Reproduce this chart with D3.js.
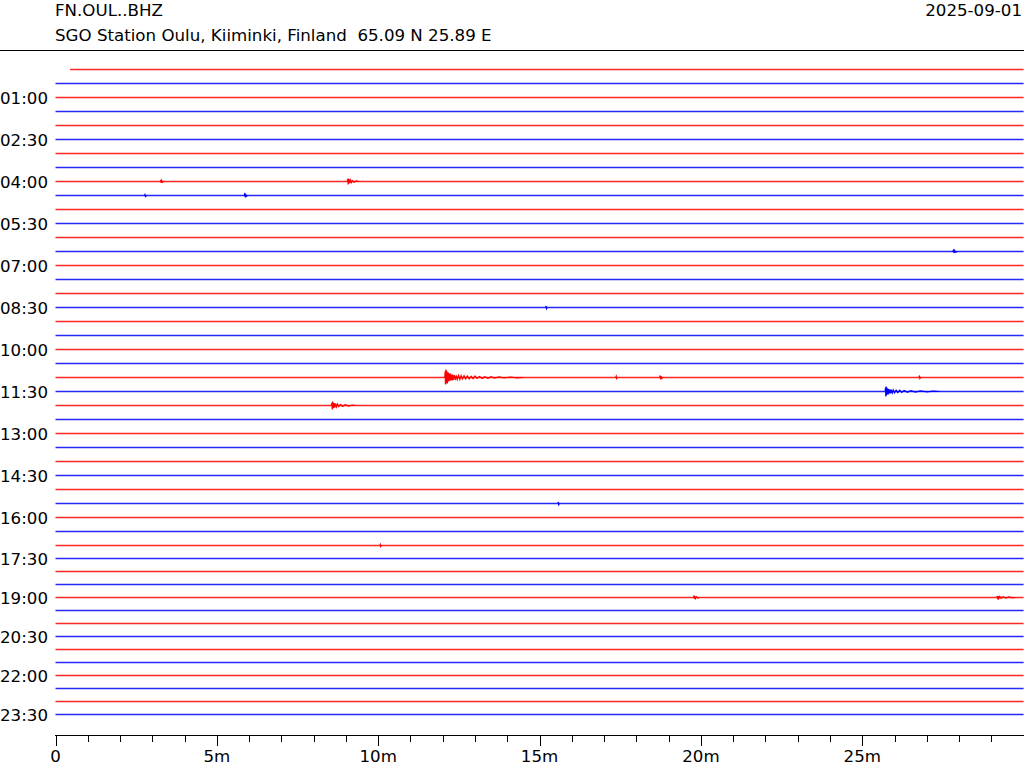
<!DOCTYPE html>
<html>
<head>
<meta charset="utf-8">
<script src="https://cdn.jsdelivr.net/npm/d3@7"></script>
<style>
  html, body { margin: 0; padding: 0; background: #fff; }
  svg { display: block; font-family: "DejaVu Sans", sans-serif; }
  text { white-space: pre; }
</style>
</head>
<body>
<svg id="chart" width="1024" height="768"></svg>
<script>
// ---------------- data ----------------
const stationCode = "FN.OUL..BHZ";
const stationDesc = "SGO Station Oulu, Kiiminki, Finland  65.09 N 25.89 E";
const dateLabel = "2025-09-01";

// one row per 30 minutes, alternating colours
const rowTimes = ["00:00","00:30","01:00","01:30","02:00","02:30","03:00","03:30",
  "04:00","04:30","05:00","05:30","06:00","06:30","07:00","07:30",
  "08:00","08:30","09:00","09:30","10:00","10:30","11:00","11:30",
  "12:00","12:30","13:00","13:30","14:00","14:30","15:00","15:30",
  "16:00","16:30","17:00","17:30","18:00","18:30","19:00","19:30",
  "20:00","20:30","21:00","21:30","22:00","22:30","23:00","23:30"];
const rowColors = ["#ff0000", "#0000ff"];

const yTickLabels = ["01:00","02:30","04:00","05:30","07:00","08:30","10:00","11:30",
  "13:00","14:30","16:00","17:30","19:00","20:30","22:00","23:30"];

const xTickMinutes = [0, 5, 10, 15, 20, 25];
const xTickLabels = ["0", "5m", "10m", "15m", "20m", "25m"];
const xMinorMinutes = [0,1,2,3,4,5,6,7,8,9,10,11,12,13,14,15,16,17,18,19,20,21,22,23,24,25,26,27,28,29];

// data coverage of each row (minutes within the row)
const rowDataStart = { "00:00": 0.45 };
const rowDataEnd = 30;

// event waveforms: [minute, amplitude] (amplitude in k-counts, positive = up)
const events = [
  { row: "04:00", wave: [[3.25,0],[3.265,1.5],[3.275,-1.5],[3.29,1],[3.31,-0.8],[3.35,0]] },
  { row: "04:00", wave: [[9.04,0],[9.06,2.5],[9.07,-3],[9.08,3],[9.09,-2],[9.105,2],[9.12,-1.5],
                         [9.14,1.5],[9.17,-1],[9.2,1],[9.25,-0.8],[9.32,0.6],[9.4,0]] },
  { row: "04:30", wave: [[2.75,0],[2.77,1],[2.79,-1],[2.82,0]] },
  { row: "04:30", wave: [[5.85,0],[5.87,2.5],[5.88,-2],[5.895,1.5],[5.91,-1],[5.95,0]] },
  { row: "06:30", wave: [[27.81,0],[27.83,2],[27.84,-1.5],[27.86,1],[27.89,-0.8],[27.95,0]] },
  { row: "08:30", wave: [[15.19,0],[15.205,1.5],[15.215,-1.2],[15.24,0]] },
  { row: "11:00", wave: [[12.06,0],[12.075,6],[12.085,-7],[12.095,8],[12.105,-6],[12.115,7],[12.125,-5],
                         [12.135,6],[12.145,-6],[12.155,5],[12.165,-4],[12.175,5],[12.19,-4],[12.205,4],
                         [12.22,-3],[12.235,4],[12.25,-3],[12.27,3],[12.29,-3],[12.31,3],[12.33,-2.5],
                         [12.36,2.5],[12.39,-2.5],[12.42,2],[12.45,-2],[12.49,2],[12.53,-2],[12.57,2],
                         [12.61,-1.5],[12.66,1.8],[12.71,-1.5],[12.76,1.5],[12.82,-1.5],[12.88,1.2],
                         [12.94,-1.2],[13.0,1.5],[13.06,-1],[13.14,1],[13.22,-1],[13.3,0.8],[13.4,-0.8],
                         [13.5,0.8],[13.6,-0.6],[13.75,0.6],[13.9,-0.5],[14.1,0.5],[14.3,-0.4],[14.5,0]] },
  { row: "11:00", wave: [[17.36,0],[17.375,1.2],[17.385,-1],[17.41,0]] },
  { row: "11:00", wave: [[18.72,0],[18.74,2],[18.75,-2],[18.765,1.5],[18.78,-1],[18.82,0]] },
  { row: "11:00", wave: [[26.76,0],[26.775,2],[26.785,-1],[26.81,0]] },
  { row: "11:30", wave: [[25.71,0],[25.72,4],[25.73,-5],[25.74,5],[25.75,-4],[25.76,4],[25.775,-3],
                         [25.79,3],[25.805,-3],[25.82,2.5],[25.84,-2],[25.86,2],[25.88,-2],[25.9,1.8],
                         [25.93,-1.5],[25.96,1.5],[26.0,-1.5],[26.05,1.3],[26.1,-1.2],[26.16,1.2],
                         [26.22,-1],[26.3,1],[26.4,-0.8],[26.5,0.8],[26.65,-0.6],[26.8,0.6],[27.0,-0.4],
                         [27.2,0.4],[27.4,0]] },
  { row: "12:00", wave: [[8.55,0],[8.565,3],[8.575,-4],[8.585,4],[8.595,-3],[8.61,3],[8.625,-2.5],
                         [8.64,2.5],[8.66,-2],[8.68,2],[8.71,-1.5],[8.74,1.5],[8.78,-1.2],[8.83,1],
                         [8.9,-1],[8.98,0.8],[9.08,-0.6],[9.2,0.5],[9.3,0]] },
  { row: "15:30", wave: [[15.57,0],[15.585,1.5],[15.595,-1.2],[15.62,0]] },
  { row: "17:00", wave: [[10.05,0],[10.065,1],[10.075,-1],[10.1,0]] },
  { row: "19:00", wave: [[19.77,0],[19.79,2],[19.8,-1.5],[19.815,1.2],[19.83,-1],[19.86,0.8],
                         [19.9,-0.6],[19.95,0]] },
  { row: "19:00", wave: [[29.17,0],[29.19,1.5],[29.2,-2],[29.215,1.5],[29.23,-1],[29.26,1],[29.3,-0.8],
                         [29.36,0.8],[29.45,-0.6],[29.55,0.5],[29.65,-0.4],[29.75,0]] }
];

// ---------------- layout ----------------
const svg = d3.select("#chart");
const font = 16.67;

const x = d3.scaleLinear().domain([0, 30]).range([55.5, 1023.6]);
// row index -> vertical baseline position
const y = d3.scaleLinear().domain([0, 34, 47]).range([69.5, 545.5, 714.5]);
const amp = d3.scaleLinear().domain([0, 1]).range([0, 1]);
const rowIndex = t => rowTimes.indexOf(t);

// header
svg.append("text").attr("x", 55).attr("y", 16).attr("font-size", font)
  .attr("fill", "#000").text(stationCode);
svg.append("text").attr("x", 55).attr("y", 41).attr("font-size", font)
  .attr("fill", "#000").attr("xml:space", "preserve").text(stationDesc);
svg.append("text").attr("x", 1022).attr("y", 16).attr("font-size", font)
  .attr("text-anchor", "end").attr("fill", "#000").text(dateLabel);
svg.append("line").attr("x1", 0).attr("x2", 1024).attr("y1", 50.5).attr("y2", 50.5)
  .attr("stroke", "#000").attr("stroke-width", 1).attr("shape-rendering", "crispEdges");

// traces
const traces = svg.append("g");
rowTimes.forEach((t, i) => {
  const start = rowDataStart[t] !== undefined ? rowDataStart[t] : 0;
  traces.append("line")
    .attr("x1", x(start)).attr("x2", x(rowDataEnd))
    .attr("y1", y(i)).attr("y2", y(i))
    .attr("stroke", rowColors[i % 2])
    .attr("stroke-opacity", 0.85)
    .attr("stroke-width", 1.4);
});

// events
const wave = d3.line()
  .x(d => x(d[0]))
  .y(d => d.base - amp(d[1]));
events.forEach(ev => {
  const i = rowIndex(ev.row);
  const pts = ev.wave.map(p => { const q = p.slice(); q.base = y(i); return q; });
  traces.append("path")
    .attr("d", wave(pts))
    .attr("fill", "none")
    .attr("stroke", rowColors[i % 2])
    .attr("stroke-width", 1.2);
});

// y labels
svg.append("g").selectAll("text").data(yTickLabels).join("text")
  .attr("x", 48)
  .attr("y", d => y(rowIndex(d)) + 6.5)
  .attr("text-anchor", "end")
  .attr("font-size", font)
  .attr("fill", "#000")
  .text(d => d);

// x axis
const axisY = 735.5;
const ax = svg.append("g").attr("shape-rendering", "crispEdges");
ax.append("line").attr("x1", x(0) - 1).attr("x2", 1024).attr("y1", axisY).attr("y2", axisY)
  .attr("stroke", "#000").attr("stroke-width", 1);
ax.selectAll("line.minor").data(xMinorMinutes.filter(m => !xTickMinutes.includes(m))).join("line")
  .attr("class", "minor")
  .attr("x1", d => Math.round(x(d)) + 0.5).attr("x2", d => Math.round(x(d)) + 0.5)
  .attr("y1", axisY).attr("y2", axisY + 6)
  .attr("stroke", "#000").attr("stroke-width", 1);
ax.selectAll("line.major").data(xTickMinutes).join("line")
  .attr("class", "major")
  .attr("x1", d => Math.round(x(d)) + 0.5).attr("x2", d => Math.round(x(d)) + 0.5)
  .attr("y1", axisY).attr("y2", axisY + 10)
  .attr("stroke", "#000").attr("stroke-width", 1);
ax.selectAll("text").data(xTickMinutes).join("text")
  .attr("x", d => x(d))
  .attr("y", axisY + 26)
  .attr("text-anchor", "middle")
  .attr("font-size", font)
  .attr("fill", "#000")
  .text((d, i) => xTickLabels[i]);
</script>
</body>
</html>
